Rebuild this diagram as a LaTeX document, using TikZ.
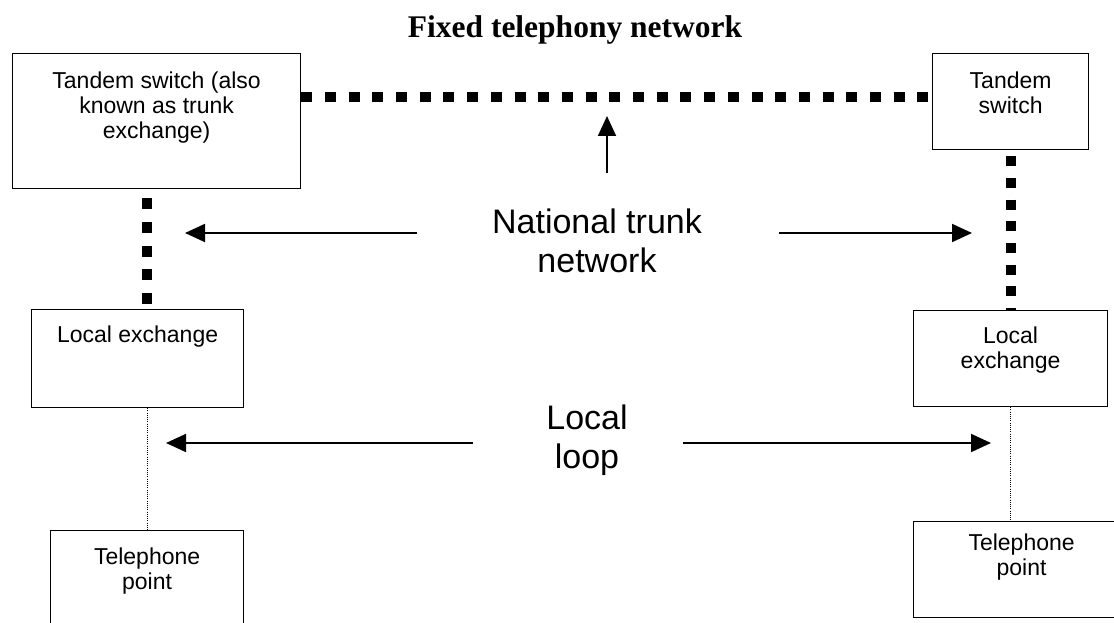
\documentclass[tikz,border=0pt]{standalone}
\usepackage{fontspec}
\setmainfont{Liberation Sans}
\newfontfamily\titlefont{Liberation Serif}
\usetikzlibrary{arrows.meta}

% box text: width, height, first baseline from top, lines
\newcommand\boxtext[4]{\parbox[t][#2][t]{#1}{\centering\fontsize{23}{25}\selectfont\rule{0pt}{#3}#4\par}}

\begin{document}
\begin{tikzpicture}[x=1pt,y=-1pt,
  unitbox/.style={draw, line width=1.2pt, inner sep=0pt, anchor=north west},
  trunk/.style={line width=10pt, dash pattern=on 11pt off 12.7pt},
  loopline/.style={line width=0.9pt, dash pattern=on 1pt off 1.2pt},
  pointer/.style={line width=1.8pt, -{Triangle[length=20pt,width=18pt]}},
  bigtext/.style={align=center, anchor=base, font=\fontsize{34}{39}\selectfont},
]
\useasboundingbox (0,0) rectangle (1114,623);
\clip (0,0) rectangle (1114,623);

% title
\node[anchor=base, font=\titlefont\bfseries\fontsize{31.5}{36}\selectfont] (title) at (575,38) {Fixed telephony network};

% exchanges and end points
\node[unitbox] (tl) at (12,53)  {\boxtext{288pt}{135pt}{35pt}{Tandem switch (also\\known as trunk\\exchange)}};
\node[unitbox] (tr) at (932,53) {\boxtext{156pt}{96pt}{35pt}{Tandem\\switch}};
\node[unitbox] (ll) at (31,309) {\boxtext{212pt}{98pt}{33pt}{Local exchange}};
\node[unitbox] (lr) at (913,310) {\boxtext{194pt}{96pt}{33pt}{Local\\exchange}};
\node[unitbox] (pl) at (50,530) {\boxtext{193pt}{110pt}{34pt}{Telephone\\point}};
\node[unitbox] (pr) at (913,521) {\boxtext{216pt}{96pt}{29pt}{Telephone\\point}};

% trunk links
\draw[trunk] ([yshift=-44pt]tl.north east) -- ([yshift=-44pt]tr.north west);
\draw[trunk, dash phase=14.7pt] ([xshift=135pt]tl.south west) -- ([xshift=135pt]tl.south west |- ll.north);
\draw[trunk, dash pattern=on 10pt off 11.7pt, dash phase=15.7pt] (tr.south) -- (lr.north);

% local loops
\draw[loopline] (pl.north |- ll.south) -- (pl.north);
\draw[loopline] (lr.south) -- (lr.south |- pr.north);

% labels (anchored on the baseline of their last line)
\node[bigtext] (ntn) at (597,272) {National trunk\\network};
\node[bigtext] (ll-label) at (587,468) {Local\\loop};

% pointers
\coordinate (n-left-tail) at (417,233);
\coordinate (n-left-tip) at (185,233);
\coordinate (n-right-tail) at (779,233);
\coordinate (n-right-tip) at (972,233);
\coordinate (n-up-tail) at (607,173);
\coordinate (n-up-tip) at (607,116);
\coordinate (l-left-tail) at (473,443);
\coordinate (l-left-tip) at (166,443);
\coordinate (l-right-tail) at (683,443);
\coordinate (l-right-tip) at (991,443);
\draw[pointer] (n-left-tail) -- (n-left-tip);
\draw[pointer] (n-right-tail) -- (n-right-tip);
\draw[pointer] (n-up-tail) -- (n-up-tip);
\draw[pointer] (l-left-tail) -- (l-left-tip);
\draw[pointer] (l-right-tail) -- (l-right-tip);
\end{tikzpicture}
\end{document}
